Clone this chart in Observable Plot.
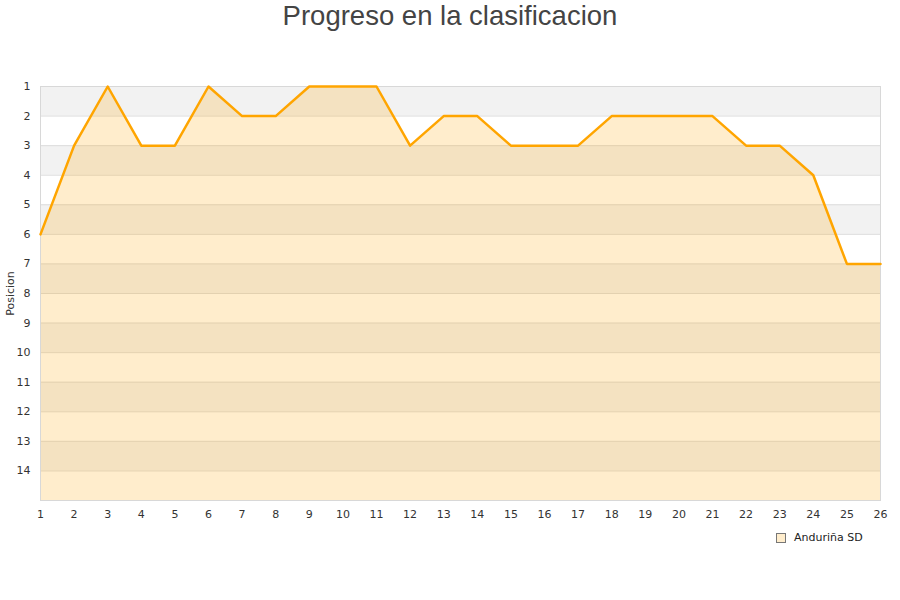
<!DOCTYPE html>
<html>
<head>
<meta charset="utf-8">
<script src="https://cdn.jsdelivr.net/npm/d3@7"></script>
<script src="https://cdn.jsdelivr.net/npm/@observablehq/plot@0.6"></script>
<style>
  body { margin: 0; background: #fff; width: 900px; height: 600px; position: relative; overflow: hidden; }
  #title { position: absolute; top: 0; left: 0; width: 900px; text-align: center; font-family: "Liberation Sans", Arial, sans-serif; font-size: 27.5px; color: #444; line-height: 32px; }
  #chart { position: absolute; top: 40px; left: 0; }
  #legend { position: absolute; top: 531px; left: 776px; font-family: "DejaVu Sans", sans-serif; font-size: 11px; color: #222; display: flex; align-items: center; }
  #legend .sw { width: 8px; height: 8px; border: 1px solid #777; background: #ffedcc; margin-right: 8px; }
</style>
</head>
<body>
<div id="title">Progreso en la clasificacion</div>
<div id="chart"></div>
<div id="legend"><span class="sw"></span><span>Anduriña SD</span></div>
<script>
const jornadas = [1,2,3,4,5,6,7,8,9,10,11,12,13,14,15,16,17,18,19,20,21,22,23,24,25,26];
const posiciones = [6,3,1,3,3,1,2,2,1,1,1,3,2,2,3,3,3,2,2,2,2,3,3,4,7,7];
const yTicks = [1,2,3,4,5,6,7,8,9,10,11,12,13,14];
const equipo = "Anduriña SD";

const data = jornadas.map((j, i) => ({jornada: j, pos: posiciones[i]}));
const bands = yTicks.filter(t => t % 2 === 1);

const chart = Plot.plot({
  width: 900,
  height: 560,
  marginTop: 46,
  marginBottom: 100,
  marginLeft: 40,
  marginRight: 20,
  style: {fontFamily: "DejaVu Sans, sans-serif", fontSize: "11px", color: "#333", background: "transparent"},
  x: {domain: [1, 26], ticks: jornadas, tickSize: 0, tickPadding: 10, tickFormat: d => d, label: null},
  y: {domain: [1, 15], reverse: true, ticks: yTicks, tickSize: 0, tickPadding: 10, tickFormat: d => d, label: null},
  marks: [
    Plot.rect(bands, {x1: 1, x2: 26, y1: d => d, y2: d => d + 1, fill: "#f2f2f2"}),
    Plot.ruleY(yTicks.slice(1), {stroke: "#dddddd", strokeWidth: 1}),
    Plot.areaY(data, {x: "jornada", y1: 15, y2: "pos", fill: "#ffa500", fillOpacity: 0.2}),
    Plot.frame({stroke: "#d8d8d8"}),
    Plot.lineY(data, {x: "jornada", y: "pos", stroke: "#ffa500", strokeWidth: 2.5}),
    Plot.text(["Posicion"], {frameAnchor: "left", textAnchor: "middle", dx: -30, rotate: -90, fontSize: 11, fill: "#333"})
  ]
});
document.getElementById("chart").appendChild(chart);
</script>
</body>
</html>
